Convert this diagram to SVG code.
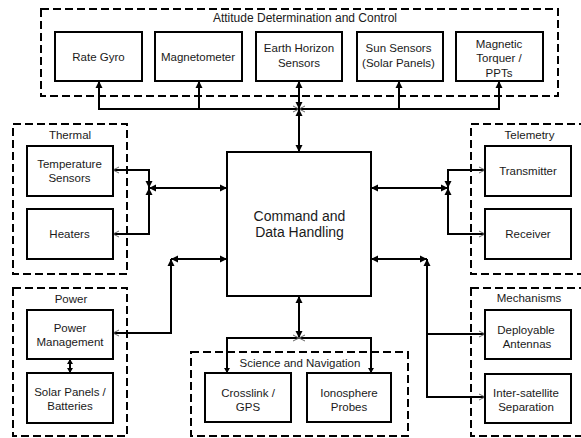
<svg xmlns="http://www.w3.org/2000/svg" width="581" height="438" viewBox="0 0 581 438">
<defs>
<marker id="arr" markerUnits="userSpaceOnUse" markerWidth="8" markerHeight="8" refX="7" refY="3.5" orient="auto-start-reverse" overflow="visible">
<path d="M0,0 L7,3.5 L0,7 z" fill="#000"/>
</marker>
<marker id="sm" markerUnits="userSpaceOnUse" markerWidth="6" markerHeight="6" refX="5" refY="3" orient="auto-start-reverse" overflow="visible">
<path d="M0,0 L5,3 L0,6 z" fill="#000"/>
</marker>
<marker id="thin" markerUnits="userSpaceOnUse" markerWidth="8" markerHeight="8" refX="6" refY="3" orient="auto-start-reverse" overflow="visible">
<path d="M0,0 L6,3 L0,6" fill="none" stroke="#666" stroke-width="1"/>
</marker>
</defs>
<style>
.grp{fill:none;stroke:#000;stroke-width:2;stroke-dasharray:8 4}
.box{fill:#fff;stroke:#000;stroke-width:2}
.c{fill:none;stroke:#000;stroke-width:2}
text{font-family:"Liberation Sans",Arial,sans-serif;font-size:11.5px;fill:#1a1a1a;text-anchor:middle}
.big{font-size:14px}
.t12{font-size:12px}
</style>
<rect width="581" height="438" fill="#fff"/>

<g id="groups">
<g id="grp-adc"><rect class="grp" x="41" y="9" width="517" height="87"/><text class="t12" x="305" y="21.5">Attitude Determination and Control</text></g>
<g id="grp-thermal"><rect class="grp" x="13" y="124" width="114" height="150"/><text x="70" y="138.5">Thermal</text></g>
<g id="grp-power"><rect class="grp" x="13" y="288" width="114" height="148"/><text x="71" y="303">Power</text></g>
<g id="grp-telemetry"><rect class="grp" x="471" y="124" width="120" height="150"/><text x="529.5" y="139">Telemetry</text></g>
<g id="grp-mechanisms"><rect class="grp" x="471" y="288" width="120" height="148"/><text x="529" y="302">Mechanisms</text></g>
<g id="grp-science"><rect class="grp" x="191" y="352" width="217" height="84"/><text x="300" y="366.5">Science and Navigation</text></g>
</g>

<g id="connectors">
<path class="c" d="M299,109 H99 V81" marker-start="url(#thin)" marker-end="url(#arr)"/>
<path class="c" d="M199,109 V81" marker-end="url(#arr)"/>
<path class="c" d="M299,109 H499 V81" marker-start="url(#thin)" marker-end="url(#arr)"/>
<path class="c" d="M399,109 V81" marker-end="url(#arr)"/>
<path class="c" d="M299,109 V81" marker-start="url(#arr)" marker-end="url(#arr)"/>
<path class="c" d="M299,109 V152" marker-start="url(#arr)" marker-end="url(#arr)"/>

<path class="c" d="M227,188 H149" marker-start="url(#arr)" marker-end="url(#arr)"/>
<path class="c" d="M149,188 V170 H113" marker-start="url(#arr)" marker-end="url(#thin)"/>
<path class="c" d="M149,188 V234 H113" marker-start="url(#arr)" marker-end="url(#thin)"/>

<path class="c" d="M371,188 H448" marker-start="url(#arr)" marker-end="url(#arr)"/>
<path class="c" d="M448,188 V170 H485" marker-start="url(#arr)" marker-end="url(#thin)"/>
<path class="c" d="M448,188 V234 H485" marker-start="url(#arr)" marker-end="url(#thin)"/>

<path class="c" d="M227,259 H171" marker-start="url(#arr)" marker-end="url(#arr)"/>
<path class="c" d="M171,259 V333 H113" marker-start="url(#arr)" marker-end="url(#thin)"/>
<path class="c" d="M70,359 V373" marker-start="url(#sm)" marker-end="url(#sm)"/>

<path class="c" d="M371,259 H427" marker-start="url(#arr)" marker-end="url(#arr)"/>
<path class="c" d="M427,259 V397 H485" marker-start="url(#arr)" marker-end="url(#thin)"/>
<path class="c" d="M427,334 H485" marker-end="url(#thin)"/>

<path class="c" d="M299,296 V338" marker-start="url(#arr)" marker-end="url(#arr)"/>
<path class="c" d="M299,338 H227 V373" marker-start="url(#thin)" marker-end="url(#sm)"/>
<path class="c" d="M299,338 H371 V373" marker-start="url(#thin)" marker-end="url(#sm)"/>
</g>

<g id="n-rate-gyro"><rect class="box" x="55" y="32" width="87" height="49"/><text x="98.5" y="60.5">Rate Gyro</text></g>
<g id="n-magnetometer"><rect class="box" x="155" y="32" width="87" height="49"/><text x="198" y="60.5">Magnetometer</text></g>
<g id="n-earth-horizon"><rect class="box" x="256" y="32" width="86" height="49"/><text x="299" y="52">Earth Horizon</text><text x="299" y="66.5">Sensors</text></g>
<g id="n-sun-sensors"><rect class="box" x="357" y="32" width="86" height="49"/><text x="398.5" y="52">Sun Sensors</text><text x="398.5" y="66.5">(Solar Panels)</text></g>
<g id="n-torquer"><rect class="box" x="456" y="32" width="87" height="49"/><text x="499" y="47.5">Magnetic</text><text x="499" y="62">Torquer /</text><text x="499" y="76.5">PPTs</text></g>

<g id="n-temp-sensors"><rect class="box" x="27" y="146" width="86" height="50"/><text x="69.5" y="167.5">Temperature</text><text x="69.5" y="182">Sensors</text></g>
<g id="n-heaters"><rect class="box" x="27" y="209" width="86" height="50"/><text x="69.5" y="238">Heaters</text></g>

<g id="n-power-mgmt"><rect class="box" x="27" y="310" width="86" height="49"/><text x="70" y="332">Power</text><text x="70" y="346">Management</text></g>
<g id="n-solar-batteries"><rect class="box" x="27" y="373" width="86" height="50"/><text x="70" y="396">Solar Panels /</text><text x="70" y="410">Batteries</text></g>

<g id="n-cdh"><rect class="box" x="227" y="152" width="144" height="144"/><text class="big" x="299.5" y="220.5">Command and</text><text class="big" x="299.5" y="236.5">Data Handling</text></g>

<g id="n-transmitter"><rect class="box" x="485" y="146" width="86" height="50"/><text x="528" y="175">Transmitter</text></g>
<g id="n-receiver"><rect class="box" x="485" y="209" width="86" height="50"/><text x="528" y="238">Receiver</text></g>

<g id="n-antennas"><rect class="box" x="485" y="310" width="86" height="49"/><text x="526" y="333.5">Deployable</text><text x="527" y="347.5">Antennas</text></g>
<g id="n-separation"><rect class="box" x="485" y="374" width="86" height="49"/><text x="526" y="397">Inter-satellite</text><text x="526" y="410.5">Separation</text></g>

<g id="n-crosslink"><rect class="box" x="205" y="373" width="86" height="49"/><text x="248" y="397">Crosslink /</text><text x="248" y="411">GPS</text></g>
<g id="n-ionosphere"><rect class="box" x="307" y="373" width="84" height="49"/><text x="349" y="397">Ionosphere</text><text x="349" y="411">Probes</text></g>
</svg>
